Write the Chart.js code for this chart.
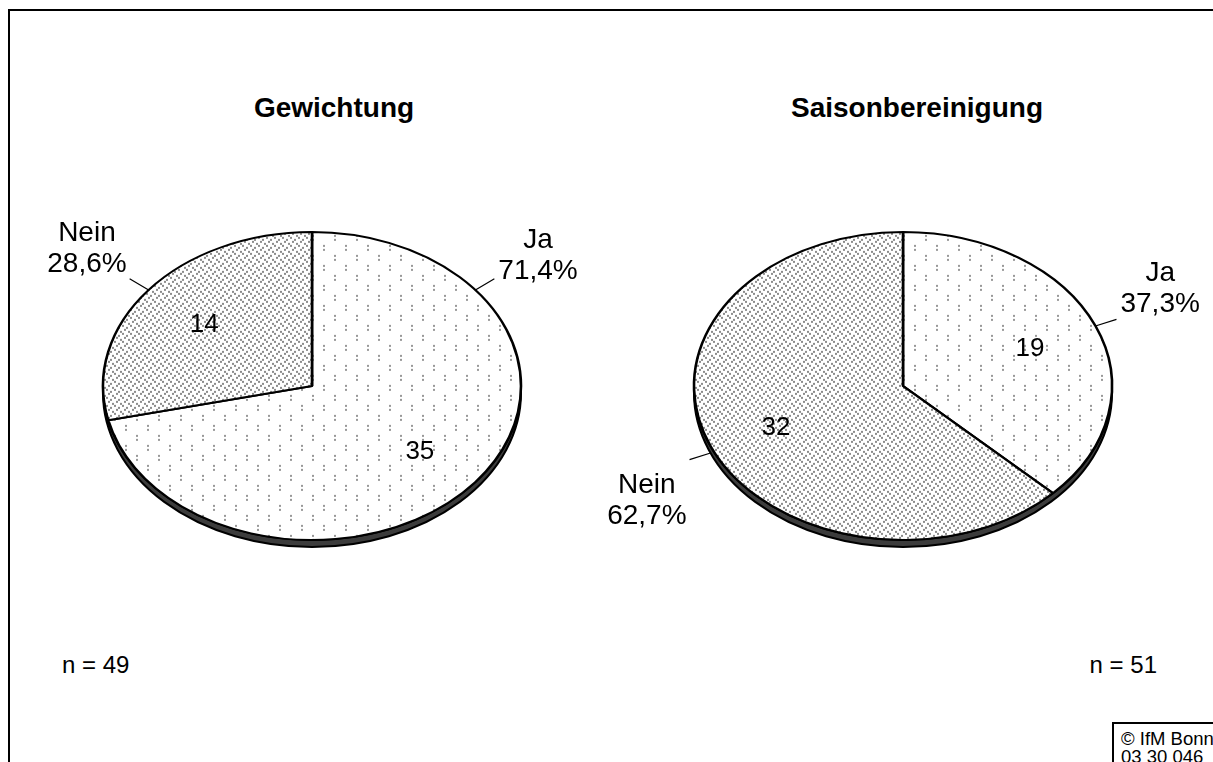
<!DOCTYPE html>
<html>
<head>
<meta charset="utf-8">
<script src="https://cdn.jsdelivr.net/npm/chart.js@4/dist/chart.umd.min.js"></script>
<style>
  html, body { margin: 0; padding: 0; background: #fff; }
  body { width: 1213px; height: 762px; overflow: hidden; position: relative; font-family: Arial, "Liberation Sans", sans-serif; color: #000; }
  .frame { position: absolute; left: 8px; top: 9px; width: 1400px; height: 1000px; border: 2px solid #000; }
  .title { position: absolute; top: 94px; font-size: 28px; line-height: 28px; font-weight: bold; white-space: nowrap; transform: translateX(-50%); }
  .n { position: absolute; top: 653px; font-size: 24px; line-height: 24px; white-space: nowrap; }
  .copy { position: absolute; left: 1112px; top: 722px; width: 200px; height: 100px; border: 2px solid #000; padding: 6px 0 0 7px; font-size: 18.5px; line-height: 18px; }
  canvas { position: absolute; top: 151px; }
</style>
</head>
<body>
<div class="frame"></div>
<div class="title" id="title1" style="left:334px"></div>
<div class="title" id="title2" style="left:917px"></div>
<div class="n" id="n1" style="left:62px"></div>
<div class="n" id="n2" style="right:56px"></div>
<div class="copy">© IfM Bonn<br>03 30 046</div>
<canvas id="pie1" width="620" height="470" style="left:2px"></canvas>
<canvas id="pie2" width="620" height="470" style="left:593px"></canvas>
<script>
const categories = ['Ja', 'Nein'];
const weightingCounts = [35, 14];
const seasonalCounts = [19, 32];
const chartTitles = ['Gewichtung', 'Saisonbereinigung'];
const sampleSizes = [49, 51];

const RX = 209, RY = 154, SY = RY / RX, DEPTH = 7;

document.getElementById('title1').textContent = chartTitles[0];
document.getElementById('title2').textContent = chartTitles[1];
document.getElementById('n1').textContent = 'n = ' + sampleSizes[0];
document.getElementById('n2').textContent = 'n = ' + sampleSizes[1];

function makePattern(kind) {
  const c = document.createElement('canvas');
  const g = c.getContext('2d');
  if (kind === 'sparse') {
    c.width = 22; c.height = 20;
    g.fillStyle = '#fff'; g.fillRect(0, 0, 22, 20);
    g.fillStyle = '#999';
    for (const [x, y] of [[2, 2], [13, 12]]) {
      g.fillRect(x, y, 2, 2);
      g.fillRect(x, y + 4, 2, 2);
    }
  } else {
    c.width = 8; c.height = 8;
    g.fillStyle = '#fff'; g.fillRect(0, 0, 8, 8);
    g.fillStyle = '#8c8c8c';
    for (const [x, y] of [[0, 0], [4, 2], [2, 4], [6, 6]]) g.fillRect(x, y, 2, 2);
  }
  const p = g.createPattern(c, 'repeat');
  p.setTransform(new DOMMatrix([1, 0, 0, 1 / SY, 0, 0]));
  return p;
}

const fmtPct = (v, total) => (v / total * 100).toFixed(1).replace('.', ',') + '%';

const ellipsePie = {
  id: 'ellipsePie',
  beforeDatasetsDraw(chart) {
    const arc = chart.getDatasetMeta(0).data[0];
    if (!arc) return;
    const { x, y, outerRadius: r } = arc;
    const ctx = chart.ctx;
    // 3D rim below the pie
    ctx.save();
    ctx.beginPath();
    ctx.moveTo(x + r, y);
    ctx.lineTo(x + r, y + DEPTH);
    ctx.ellipse(x, y + DEPTH, r, r * SY, 0, 0, Math.PI);
    ctx.lineTo(x - r, y);
    ctx.ellipse(x, y, r, r * SY, 0, Math.PI, 0, true);
    ctx.closePath();
    ctx.fillStyle = '#3c3c3c';
    ctx.fill();
    ctx.lineWidth = 2;
    ctx.strokeStyle = '#000';
    ctx.stroke();
    ctx.restore();
    ctx.save();
    ctx.translate(x, y);
    ctx.scale(1, SY);
    ctx.translate(-x, -y);
  },
  afterDatasetsDraw(chart, args, opts) {
    const ctx = chart.ctx;
    ctx.restore();
    const meta = chart.getDatasetMeta(0);
    const data = chart.data.datasets[0].data;
    const total = data.reduce((a, b) => a + b, 0);
    ctx.save();
    ctx.fillStyle = '#000';
    ctx.strokeStyle = '#000';
    meta.data.forEach((arc, i) => {
      const { x, y, outerRadius: r, startAngle, endAngle } = arc;
      const mid = (startAngle + endAngle) / 2;
      // count inside the slice
      ctx.font = '26px Arial, "Liberation Sans", sans-serif';
      ctx.textAlign = 'center';
      ctx.textBaseline = 'middle';
      ctx.fillText(String(data[i]), x + Math.cos(mid) * r * 0.66, y + Math.sin(mid) * r * 0.66 * SY + 2);
      // outside label with leader line
      const flipped = opts.flip && opts.flip[i];
      const a = flipped ? -mid : mid;
      const cs = Math.cos(a), sn = Math.sin(a);
      const px = x + cs * r, py = y + sn * r * SY + (sn > 0 ? DEPTH : 0);
      const len = Math.hypot(cs, sn * SY);
      const ex = px + cs / len * 22, ey = py + sn * SY / len * 22;
      ctx.lineWidth = 1.2;
      ctx.beginPath();
      ctx.moveTo(px, py);
      ctx.lineTo(ex, ey);
      ctx.stroke();
      const lines = [chart.data.labels[i], fmtPct(data[i], total)];
      ctx.font = '28px Arial, "Liberation Sans", sans-serif';
      ctx.textBaseline = 'alphabetic';
      const w = Math.max(...lines.map(l => ctx.measureText(l).width));
      const cx = cs > 0 ? ex + 4 + w / 2 : ex - 3 - w / 2;
      const b1 = sn < 0 ? ey - (flipped ? 31 : 38) : ey + 33;
      ctx.fillText(lines[0], cx, b1);
      ctx.fillText(lines[1], cx, b1 + 31);
    });
    ctx.restore();
  },
};

function makePie(canvasId, counts, flip) {
  return new Chart(document.getElementById(canvasId), {
    type: 'pie',
    data: {
      labels: categories,
      datasets: [{
        data: counts,
        backgroundColor: [makePattern('sparse'), makePattern('dense')],
        borderColor: '#000',
        borderWidth: 2.6,
        hoverOffset: 0,
      }],
    },
    options: {
      responsive: false,
      animation: false,
      events: [],
      radius: RX,
      layout: { padding: 0 },
      plugins: {
        legend: { display: false },
        tooltip: { enabled: false },
        ellipsePie: { flip },
      },
    },
    plugins: [ellipsePie],
  });
}

makePie('pie1', weightingCounts, [true, false]);
makePie('pie2', seasonalCounts, [false, false]);
</script>
</body>
</html>
